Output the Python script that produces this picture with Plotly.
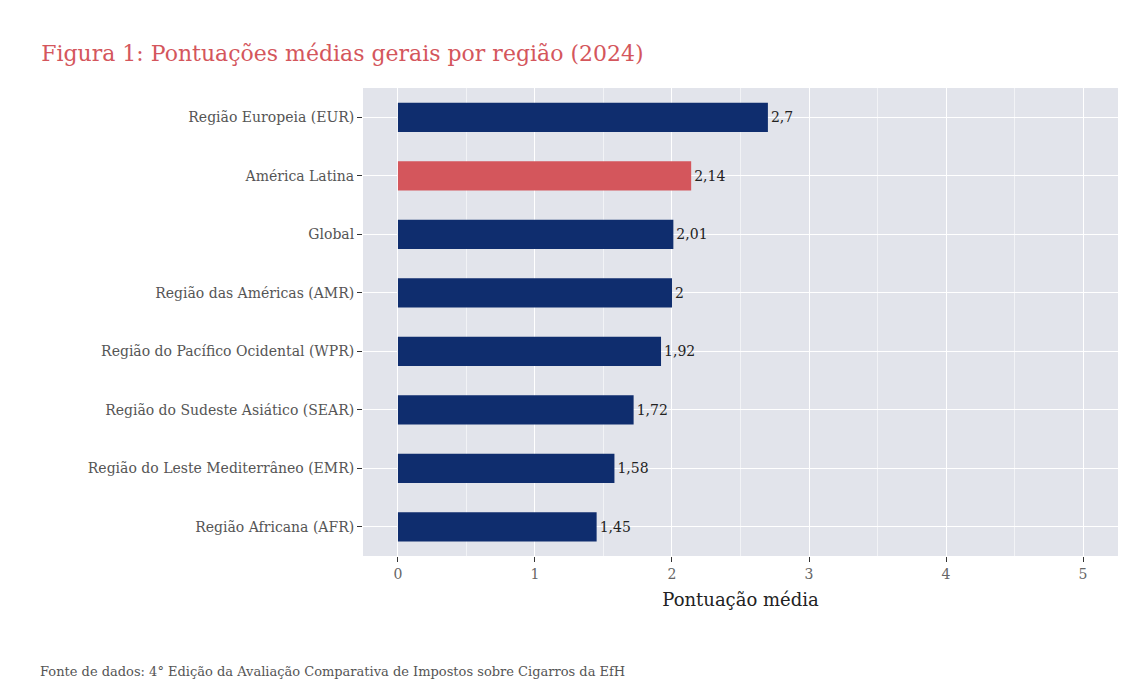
import plotly.graph_objects as go

regioes = ["Região Europeia (EUR)", "América Latina", "Global", "Região das Américas (AMR)",
           "Região do Pacífico Ocidental (WPR)", "Região do Sudeste Asiático (SEAR)",
           "Região do Leste Mediterrâneo (EMR)", "Região Africana (AFR)"]
pontuacoes = [2.7, 2.14, 2.01, 2.0, 1.92, 1.72, 1.58, 1.45]
rotulos = ["2,7", "2,14", "2,01", "2", "1,92", "1,72", "1,58", "1,45"]
cores = ["#0f2d6e" if r != "América Latina" else "#d4565c" for r in regioes]

font = "DejaVu Serif"

fig = go.Figure(go.Bar(
    x=pontuacoes, y=regioes, orientation="h", width=0.5,
    marker=dict(color=cores, line_width=0),
    text=rotulos, textposition="outside", cliponaxis=False,
    textfont=dict(family=font, size=14, color="#222"),
))

fig.update_layout(
    width=1144, height=698,
    margin=dict(l=355, r=34, t=80, b=150),
    paper_bgcolor="white", plot_bgcolor="#e2e4eb",
    font=dict(family=font, size=14, color="#555"),
    showlegend=False,
    title=dict(text="Figura 1: Pontuações médias gerais por região (2024)",
               x=0.029, xanchor="left", y=0.935, yanchor="middle",
               font=dict(family=font, size=22, color="#d4565c")),
    xaxis=dict(range=[-0.255, 5.255], dtick=1, showgrid=True, gridcolor="white", gridwidth=1.3,
               minor=dict(dtick=0.5, showgrid=True, gridcolor="#f2f3f6", gridwidth=1),
               zeroline=False, ticks="outside", ticklen=5, tickcolor="#333",
               tickfont=dict(size=14, color="#666"),
               title=dict(text="Pontuação média", font=dict(size=18, color="#222"), standoff=12)),
    yaxis=dict(autorange="reversed", showgrid=True, gridcolor="white", gridwidth=1.3,
               ticks="outside", ticklen=5, tickcolor="#333",
               tickfont=dict(size=14, color="#555")),
    annotations=[dict(text="Fonte de dados: 4° Edição da Avaliação Comparativa de Impostos sobre Cigarros da EfH",
                      xref="paper", yref="paper", x=-0.43, y=-0.246, xanchor="left", yanchor="middle",
                      showarrow=False, font=dict(family=font, size=13, color="#555"))],
)

fig.write_html("out.html")
